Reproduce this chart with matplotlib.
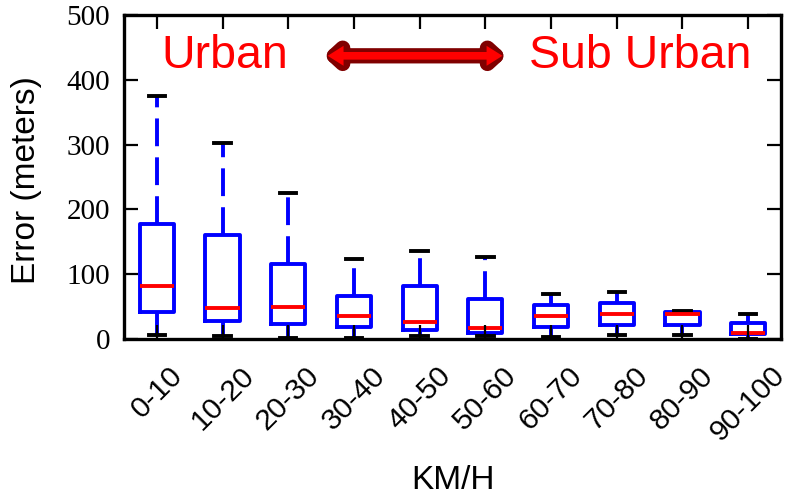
import matplotlib
matplotlib.use("Agg")
import matplotlib.pyplot as plt

plt.rcParams['lines.scale_dashes'] = False
plt.rcParams['font.family'] = ['Liberation Sans', 'DejaVu Sans']

# Speed bins and the error distribution for each bin (meters)
speed_bins = ['0-10', '10-20', '20-30', '30-40', '40-50',
              '50-60', '60-70', '70-80', '80-90', '90-100']
whisker_low = [6, 4, 1, 1, 4, 4, 3, 6, 6, 0]
q1 = [41, 28, 23, 18, 14, 10, 18, 22, 22, 8]
median = [82, 48, 50, 36, 27, 17, 36, 39, 39, 10]
q3 = [177, 161, 115, 66, 82, 61, 53, 55, 41, 24]
whisker_high = [375, 302, 225, 123, 136, 126, 70, 72, 44, 38]

y_ticks = [0, 100, 200, 300, 400, 500]

stats = [dict(label=lab, whislo=lo, q1=a, med=m, q3=b, whishi=hi, fliers=[])
         for lab, lo, a, m, b, hi in zip(speed_bins, whisker_low, q1, median,
                                          q3, whisker_high)]
positions = list(range(1, len(speed_bins) + 1))

fig = plt.figure(figsize=(7.9, 4.96), dpi=100)
ax = fig.add_axes([0.157, 0.3165, 0.8316, 0.6533])

ax.bxp(stats, positions=positions, widths=0.52, capwidths=0.25,
       showfliers=False,
       boxprops=dict(color='blue', lw=2.8),
       whiskerprops=dict(color='blue', lw=2.8, linestyle=(0, (20, 8))),
       capprops=dict(color='black', lw=2.8),
       medianprops=dict(color='red', lw=2.8))

ax.set_xlim(0.5, len(speed_bins) + 0.5)
ax.set_ylim(0, 500)
ax.set_axisbelow(False)

ax.set_yticks(y_ticks)
ax.set_yticklabels([str(t) for t in y_ticks], family='Liberation Serif',
                   fontsize=21)
ax.set_xticks(positions)
ax.set_xticklabels(speed_bins, rotation=45, ha='center', fontsize=21.5)

ax.tick_params(axis='both', which='major', direction='in', length=10,
               width=1.6, top=True, right=True)
ax.tick_params(axis='x', pad=16)
ax.tick_params(axis='y', pad=10)

for sp in ax.spines.values():
    sp.set_linewidth(2.4)

ax.set_ylabel('Error (meters)', fontsize=24)
ax.yaxis.set_label_coords(-0.125, 0.49)
ax.set_xlabel('KM/H', fontsize=24)
ax.xaxis.set_label_coords(0.5, -0.39)

# Region annotations
ax.text(2.04, 418, 'Urban', color='red', fontsize=33.5, ha='center',
        va='baseline')
ax.text(8.35, 418, 'Sub Urban', color='red', fontsize=33.5, ha='center',
        va='baseline')

ax.annotate('', xy=(6.33, 437), xytext=(3.53, 437),
            arrowprops=dict(arrowstyle='<|-|>,head_length=0.6,head_width=0.55',
                            color='#800000', lw=11, shrinkA=0, shrinkB=0,
                            joinstyle='round', capstyle='round'))
ax.annotate('', xy=(6.26, 437), xytext=(3.6, 437),
            arrowprops=dict(arrowstyle='<|-|>,head_length=0.35,head_width=0.22',
                            color='red', lw=5.5, shrinkA=0, shrinkB=0,
                            joinstyle='miter', capstyle='butt'))

fig.savefig('out.png', dpi=100)
